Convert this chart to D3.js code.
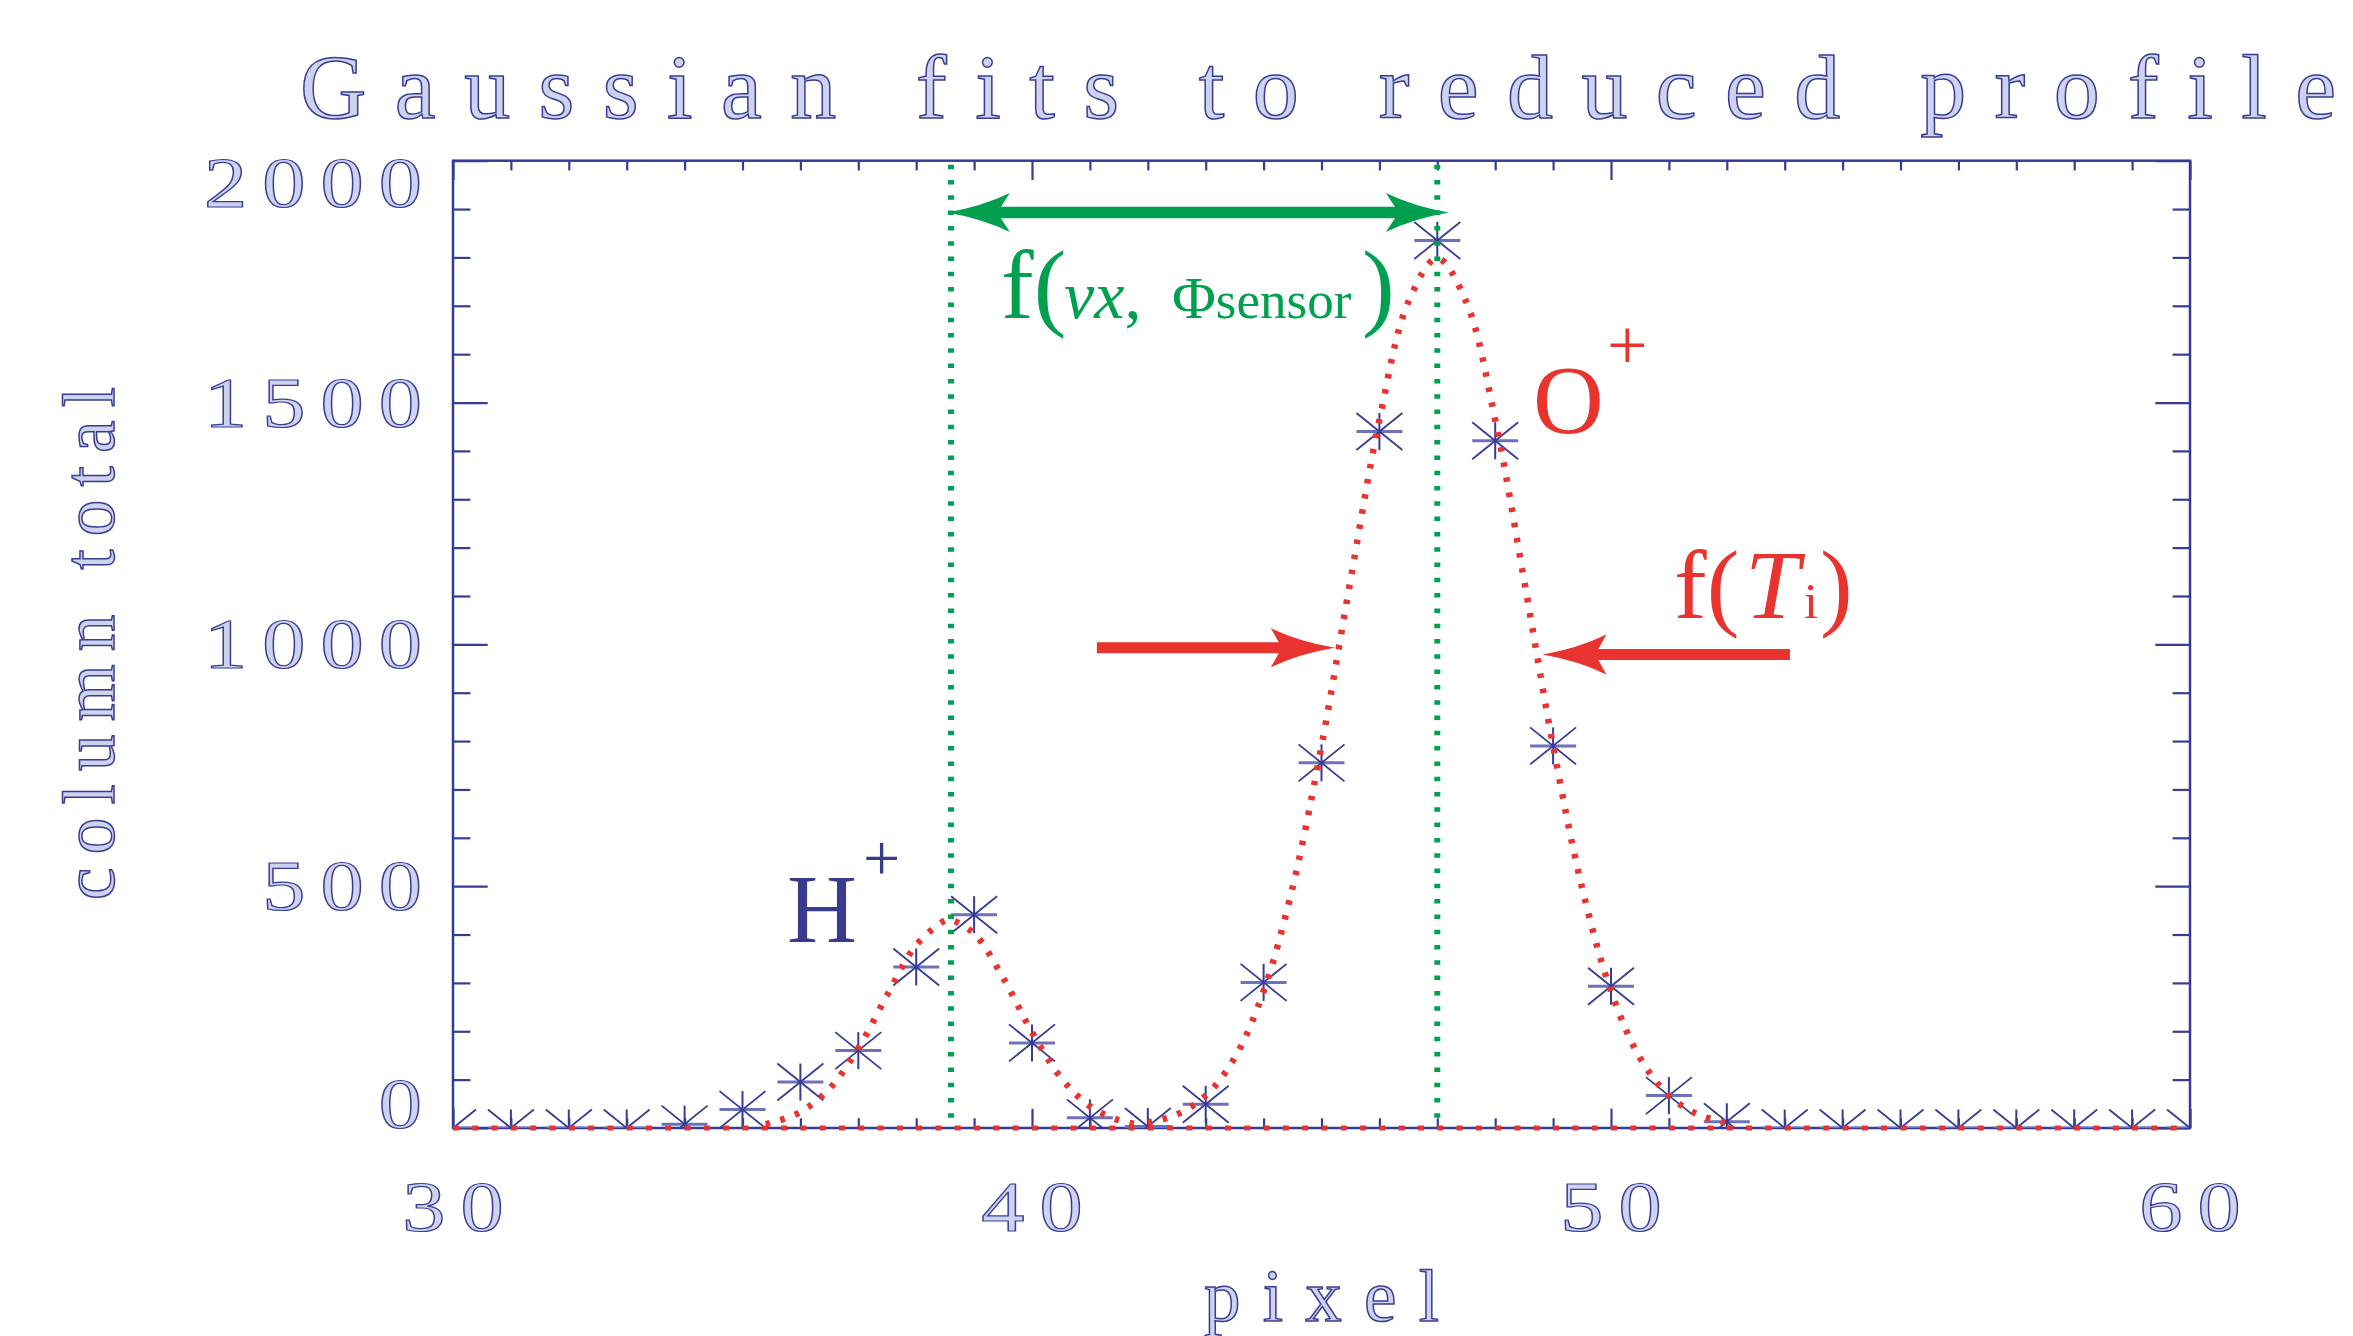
<!DOCTYPE html>
<html>
<head>
<meta charset="utf-8">
<script src="https://cdn.jsdelivr.net/npm/d3@7"></script>
<style>
  html, body { margin: 0; padding: 0; background: #ffffff; }
  svg { display: block; }
</style>
</head>
<body>
<svg id="chart" width="2353" height="1336"></svg>
<script>
// ---------------- DATA ----------------
const pixel = [30,31,32,33,34,35,36,37,38,39,40,41,42,43,44,45,46,47,48,49,50,51,52,53,54,55,56,57,58,59,60];
const columnTotal = [0,0,0,0,8,38,95,160,333,441,176,21,3,49,301,755,1440,1835,1421,790,293,67,13,0,0,0,0,0,0,0,0];

// H+ gaussian fit (dotted red)
const hFitX = [35.4,35.5,36,36.5,37,37.5,38,38.5,38.6,39,39.5,40,40.5,41,41.5,41.9];
const hFitY = [8,11,33,81,165,275,378,429,430,402,311,198,104,45,16,6];
// O+ gaussian fit (dotted red)
const oFitX = [42,42.5,43,43.5,44,44.5,45,45.5,46,46.5,47,47.5,48,48.5,49,49.5,50,50.5,51,51.5,52];
const oFitY = [11,28,67,145,283,497,790,1132,1464,1708,1798,1708,1464,1132,790,497,283,145,67,28,11];
// zero-level fit line
const baseFitX = [30,60];
const baseFitY = [0,0];
// fitted peak centres (green dotted verticals)
const fitCentres = [38.6, 47.0];

const xMajorTicks = [30,40,50,60];
const xTickLabels = ["30","40","50","60"];
const yMajorTicks = [0,500,1000,1500,2000];
const yTickLabels = ["0","500","1000","1500","2000"];
const xMinorTicks = [31,32,33,34,35,36,37,38,39,41,42,43,44,45,46,47,48,49,51,52,53,54,55,56,57,58,59];
const yMinorTicks = [100,200,300,400,600,700,800,900,1100,1200,1300,1400,1600,1700,1800,1900];

const titleText = "Gaussian fits to reduced profile";
const xTitle = "pixel";
const yTitle = "column total";

// annotation anchors in data units
const velArrow = {from: 38.53, to: 47.2, value: 1893};
const tArrowLeft = {from: 41.12, to: 45.23, value: 993};
const tArrowRight = {from: 53.09, to: 48.815, value: 979};

// ---------------- STYLE ----------------
const BLUE = "#363b95", NAVY = "#393c8e", RED = "#e8332f", GREEN = "#00a04e";
const HOLLOW_FILL = "#cfd2ec";
const SERIF = "'Liberation Serif', 'Times New Roman', serif";

const svg = d3.select("#chart");
const P = {left: 453, right: 2190, top: 160.7, bottom: 1128};
const x = d3.scaleLinear().domain([30,60]).range([P.left, P.right]);
const y = d3.scaleLinear().domain([0,2000]).range([P.bottom, P.top]);

const defs = svg.append("defs");
defs.append("clipPath").attr("id","plotclip").append("rect")
  .attr("x", P.left).attr("y", P.top).attr("width", P.right-P.left).attr("height", P.bottom-P.top);

// ---------------- AXES ----------------
const axG = svg.append("g");
const majX = 19.3, minX = 9.7, majY = 34.7, minY = 17.4;
function styleAxis(g) {
  g.select(".domain").remove();
  g.selectAll("line").attr("stroke", BLUE).attr("stroke-width", 2.2);
  g.selectAll("text").remove();
}
axG.append("g").attr("transform", `translate(0,${P.bottom})`)
  .call(d3.axisBottom(x).tickValues(xMajorTicks).tickSize(-majX).tickFormat("")).call(styleAxis);
axG.append("g").attr("transform", `translate(0,${P.bottom})`)
  .call(d3.axisBottom(x).tickValues(xMinorTicks).tickSize(-minX).tickFormat("")).call(styleAxis);
axG.append("g").attr("transform", `translate(0,${P.top})`)
  .call(d3.axisTop(x).tickValues(xMajorTicks).tickSize(-majX).tickFormat("")).call(styleAxis);
axG.append("g").attr("transform", `translate(0,${P.top})`)
  .call(d3.axisTop(x).tickValues(xMinorTicks).tickSize(-minX).tickFormat("")).call(styleAxis);
axG.append("g").attr("transform", `translate(${P.left},0)`)
  .call(d3.axisLeft(y).tickValues(yMajorTicks).tickSize(-majY).tickFormat("")).call(styleAxis);
axG.append("g").attr("transform", `translate(${P.left},0)`)
  .call(d3.axisLeft(y).tickValues(yMinorTicks).tickSize(-minY).tickFormat("")).call(styleAxis);
axG.append("g").attr("transform", `translate(${P.right},0)`)
  .call(d3.axisRight(y).tickValues(yMajorTicks).tickSize(-majY).tickFormat("")).call(styleAxis);
axG.append("g").attr("transform", `translate(${P.right},0)`)
  .call(d3.axisRight(y).tickValues(yMinorTicks).tickSize(-minY).tickFormat("")).call(styleAxis);
axG.append("rect").attr("x", P.left).attr("y", P.top)
  .attr("width", P.right-P.left).attr("height", P.bottom-P.top)
  .attr("fill","none").attr("stroke", BLUE).attr("stroke-width", 2.5);

// ---------------- HOLLOW (Hershey-like) TEXT ----------------
function hollow(t, size) {
  return t.attr("font-family", SERIF).attr("font-size", size)
    .attr("fill", HOLLOW_FILL).attr("stroke", BLUE).attr("stroke-width", 1.5);
}
// spread the letters so the text spans x0..x1; the last letter carries no trailing spacing
function fitText(parent, str, x0, x1, yb, size) {
  const t = hollow(parent.append("text").attr("x", x0).attr("y", yb), size);
  const head = t.append("tspan").text(str.slice(0, -1));
  const tail = t.append("tspan").text(str.slice(-1));
  const w = t.node().getComputedTextLength();
  if (str.length > 1) head.style("letter-spacing", ((x1 - x0 - w) / (str.length - 1)) + "px");
  tail.style("letter-spacing", "0px");
  return t;
}
// digit labels: widened glyphs, fixed per-digit advance
const DIG_SIZE = 72, DIG_SX = 1.2, DIG_ADV = 58.3;
function digitLabel(str, xStart, yb) {
  const g = svg.append("g").attr("transform", `translate(${xStart},${yb}) scale(${DIG_SX},1)`);
  const ls = DIG_ADV / DIG_SX - DIG_SIZE * 0.5;
  const t = hollow(g.append("text").attr("x", 0).attr("y", 0), DIG_SIZE)
    .attr("stroke-width", 1.5 / DIG_SX);
  t.append("tspan").text(str.slice(0, -1)).style("letter-spacing", ls + "px");
  t.append("tspan").text(str.slice(-1)).style("letter-spacing", "0px");
}
function digitWidth(str) { return DIG_ADV * (str.length - 1) + DIG_SIZE * 0.5 * DIG_SX; }

xMajorTicks.forEach((v, i) => {
  digitLabel(xTickLabels[i], x(v) - digitWidth(xTickLabels[i]) / 2, 1231);
});
yMajorTicks.forEach((v, i) => {
  const s = yTickLabels[i];
  let yb = y(v) + 24;
  if (i === 0) yb = y(v);               // bottom label sits on the axis
  if (i === yMajorTicks.length - 1) yb = y(v) + 46; // top label hangs from the frame
  digitLabel(s, 422 - digitWidth(s), yb);
});

fitText(svg, titleText, 300, 2336, 118, 92);
fitText(svg, xTitle, 1204, 1439, 1321, 73);
const yt = svg.append("g").attr("transform", "translate(114,0) rotate(-90)");
fitText(yt, yTitle, -900, -387, 0, 73);

// ---------------- DATA MARKS ----------------
const plot = svg.append("g").attr("clip-path", "url(#plotclip)");
const AW = 23, AH = 18.5;
const stars = plot.selectAll("g.star").data(pixel.map((p, i) => ({p, v: columnTotal[i]})))
  .join("g").attr("class","star")
  .attr("transform", d => `translate(${x(d.p)},${y(d.v)})`);
stars.append("line").attr("x1",-AW).attr("y1",0).attr("x2",AW).attr("y2",0)
  .attr("stroke","#6d71b9").attr("stroke-width",3);
stars.append("line").attr("x1",0).attr("y1",-AH).attr("x2",0).attr("y2",AH)
  .attr("stroke",BLUE).attr("stroke-width",2);
stars.append("line").attr("x1",-AW).attr("y1",-AH).attr("x2",AW).attr("y2",AH)
  .attr("stroke",BLUE).attr("stroke-width",1.8);
stars.append("line").attr("x1",-AW).attr("y1",AH).attr("x2",AW).attr("y2",-AH)
  .attr("stroke",BLUE).attr("stroke-width",1.8);

const fitLine = d3.line().x(d => x(d[0])).y(d => y(d[1])).curve(d3.curveCatmullRom.alpha(0.5));
svg.append("path").datum(baseFitX.map((v,i)=>[v, baseFitY[i]]))
  .attr("d", d3.line().x(d => x(d[0])).y(d => y(d[1])))
  .attr("fill","none").attr("stroke",RED).attr("stroke-width",5).attr("stroke-dasharray","6 13.3");
[[hFitX,hFitY],[oFitX,oFitY]].forEach(([xs,ys]) => {
  svg.append("path").datum(xs.map((v,i)=>[v, ys[i]]))
    .attr("d", fitLine)
    .attr("fill","none").attr("stroke",RED).attr("stroke-width",6.5).attr("stroke-dasharray","4.5 10.8");
});

svg.selectAll("line.centre").data(fitCentres).join("line").attr("class","centre")
  .attr("x1", d => x(d)).attr("x2", d => x(d))
  .attr("y1", y(2000) + 4).attr("y2", y(0))
  .attr("stroke", GREEN).attr("stroke-width", 6).attr("stroke-dasharray","4.5 10.8");

// ---------------- ARROWS ----------------
function headPts(tipX, yc, dir, L, Hh, notch, t) {
  return {
    up: `Q${tipX - dir*L*0.55},${yc - Hh*0.3} ${tipX - dir*L},${yc - Hh} L${tipX - dir*(L-notch)},${yc - t/2}`,
    low: `L${tipX - dir*(L-notch)},${yc + t/2} L${tipX - dir*L},${yc + Hh} Q${tipX - dir*L*0.55},${yc + Hh*0.3} ${tipX},${yc}`
  };
}
function singleArrow(x1, x2, yc, t, L, Hh, notch, color) {
  const dir = Math.sign(x2 - x1);
  const h = headPts(x2, yc, dir, L, Hh, notch, t);
  const d = `M${x2},${yc} ${h.up} L${x1},${yc - t/2} L${x1},${yc + t/2} ${h.low} Z`;
  svg.append("path").attr("d", d).attr("fill", color);
}
function doubleArrow(xa, xb, yc, t, L, Hh, notch, color) {
  const d = `M${xb},${yc} Q${xb - L*0.55},${yc - Hh*0.3} ${xb - L},${yc - Hh} L${xb - L + notch},${yc - t/2}`
    + ` L${xa + L - notch},${yc - t/2} L${xa + L},${yc - Hh} Q${xa + L*0.55},${yc - Hh*0.3} ${xa},${yc}`
    + ` Q${xa + L*0.55},${yc + Hh*0.3} ${xa + L},${yc + Hh} L${xa + L - notch},${yc + t/2}`
    + ` L${xb - L + notch},${yc + t/2} L${xb - L},${yc + Hh} Q${xb - L*0.55},${yc + Hh*0.3} ${xb},${yc} Z`;
  svg.append("path").attr("d", d).attr("fill", color);
}
doubleArrow(x(velArrow.from), x(velArrow.to), y(velArrow.value), 11.6, 63, 19.5, 9, GREEN);
singleArrow(x(tArrowLeft.from), x(tArrowLeft.to), y(tArrowLeft.value), 11, 64, 19.5, 8, RED);
singleArrow(x(tArrowRight.from), x(tArrowRight.to), y(tArrowRight.value), 11, 64, 20, 8, RED);

// ---------------- ANNOTATION TEXT ----------------
const ann = svg.append("g").attr("font-family", SERIF);
// f(vx, Φsensor)
const fv = ann.append("text").attr("y", 318).attr("fill", GREEN);
fv.append("tspan").attr("x", 1001).attr("font-size", 98).text("f(");
fv.append("tspan").attr("x", 1064).attr("font-size", 68).attr("font-style","italic").text("vx");
fv.append("tspan").attr("font-size", 68).text(",");
fv.append("tspan").attr("x", 1172).attr("font-size", 60).text("Φ");
fv.append("tspan").attr("font-size", 53).text("sensor");
fv.append("tspan").attr("x", 1362).attr("font-size", 98).text(")");
// O+
ann.append("text").attr("x", 1533).attr("y", 433).attr("fill", RED).attr("font-size", 98).text("O");
ann.append("text").attr("x", 1607).attr("y", 369).attr("fill", RED).attr("font-size", 72).text("+");
// f(Ti)
const ft = ann.append("text").attr("y", 618).attr("fill", RED);
ft.append("tspan").attr("x", 1674).attr("font-size", 98).text("f(");
ft.append("tspan").attr("x", 1745).attr("font-size", 98).attr("font-style","italic").text("T");
ft.append("tspan").attr("x", 1804).attr("font-size", 50).text("i");
ft.append("tspan").attr("x", 1820).attr("font-size", 98).text(")");
// H+
ann.append("text").attr("x", 787).attr("y", 942).attr("fill", NAVY).attr("font-size", 97).text("H");
ann.append("text").attr("x", 863).attr("y", 880).attr("fill", NAVY).attr("font-size", 66).text("+");
</script>
</body>
</html>
